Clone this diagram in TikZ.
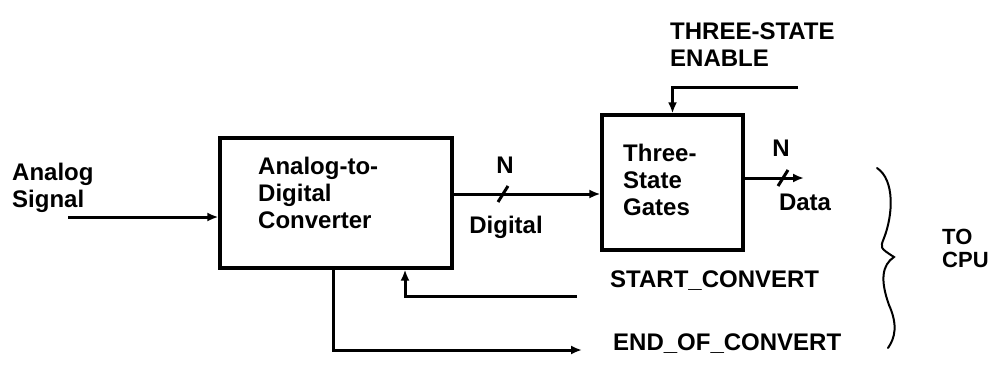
\documentclass[tikz,border=0pt]{standalone}
\usepackage{fontspec}
\setmainfont{Liberation Sans}
\usetikzlibrary{arrows.meta}
\begin{document}
\begin{tikzpicture}[x=1pt,y=-1pt,
  box/.style={draw, line width=3.2pt, inner sep=0pt},
  lbl/.style={font=\fontsize{24}{27}\selectfont\bfseries, align=left, inner sep=0pt},
  wire/.style={line width=3pt},
  arr/.style={wire, -{Latex[length=11pt,width=9pt]}},
  bracestyle/.style={line width=2pt, line cap=round}]
\useasboundingbox (0,0) rectangle (1008,375);

% boxes
\node[box, minimum width=232pt, minimum height=130pt] (adc) at (336,203) {};
\node[box, minimum width=141pt, minimum height=135pt] (tsg) at (672.5,182.5) {};

% box texts
\node[lbl, anchor=west] (adct) at (258,193) {Analog-to-\\Digital\\Converter};
\node[lbl, anchor=west] (tsgt) at (623,180) {Three-\\State\\Gates};

% other labels
\node[lbl, anchor=west] (asig) at (12,188) {Analog\\Signal};
\node[lbl, anchor=west] (enl) at (670,45) {THREE-STATE\\ENABLE};
\node[lbl] (n1) at (505,165) {N};
\node[lbl] (digl) at (506,227) {Digital};
\node[lbl] (n2) at (781,148) {N};
\node[lbl] (datal) at (805,202) {Data};
\node[lbl, anchor=west] (stl) at (610,281) {START\_CONVERT};
\node[lbl, anchor=west] (eocl) at (613,344) {END\_OF\_CONVERT};
\node[font=\fontsize{22}{23}\selectfont\bfseries, align=left, inner sep=0pt, anchor=west] (cpu) at (942,248) {TO\\CPU};

% coordinates
\coordinate (ain) at (68,217);
\coordinate (dy) at (0,194);
\coordinate (en) at (798,87);
\coordinate (dout) at (804,178);
\coordinate (st) at (577,296);
\coordinate (eoc) at (582,350);

% connectors
\draw[arr] (ain) -- (ain -| adc.west);
\draw[arr] (adc.east |- dy) -- (tsg.west |- dy);
\draw[arr] (en) -| (tsg.north);
\draw[arr] (tsg.east |- dout) -- (dout);
\draw[arr] (st) -| ([xshift=69pt]adc.south);
\draw[arr] ([xshift=-3pt]adc.south) |- (eoc);

% bus ticks
\draw[wire] (498,202) -- (508,186);
\draw[wire] (778,186) -- (788,170);

% brace
\draw[bracestyle] (877,168) .. controls (895,180) and (893,215) .. (884,238)
  .. controls (880,248) .. (894,257)
  .. controls (882,265) and (880,280) .. (889,305)
  .. controls (898,325) and (895,338) .. (888,348);
\end{tikzpicture}
\end{document}
